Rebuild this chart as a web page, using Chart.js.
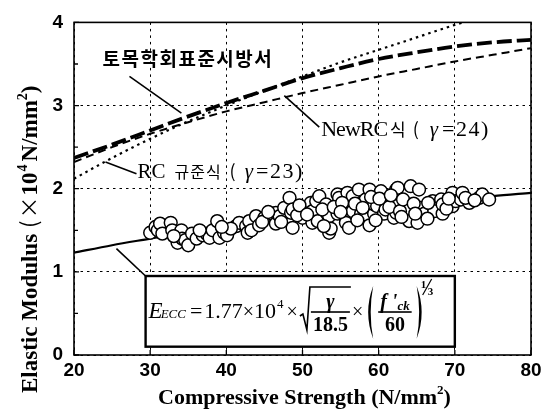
<!DOCTYPE html>
<html>
<head>
<meta charset="utf-8">
<script src="https://cdn.jsdelivr.net/npm/chart.js@4/dist/chart.umd.min.js"></script>
<style>
  html, body { margin: 0; padding: 0; background: #ffffff; }
  #wrap { width: 553px; height: 410px; }
</style>
</head>
<body>
<div id="wrap"><canvas id="chart" width="553" height="410"></canvas></div>
<script>
// Compressive strength (N/mm2) at which the design curves are tabulated
const curveStrength = [20, 25, 30, 35, 40, 45, 50, 55, 60, 65, 70, 75, 80];
// Elastic modulus (x10^4 N/mm2) of each design curve
const jsceModulus   = [2.37, 2.53, 2.70, 2.87, 3.03, 3.18, 3.33, 3.45, 3.56, 3.64, 3.71, 3.76, 3.79];
const newRcModulus  = [2.32, 2.50, 2.66, 2.80, 2.93, 3.04, 3.15, 3.25, 3.35, 3.44, 3.53, 3.61, 3.69];
const eccModulus    = [1.23, 1.32, 1.40, 1.48, 1.55, 1.61, 1.67, 1.72, 1.77, 1.82, 1.86, 1.91, 1.95];
// RC code curve leaves the plot at the top, so it has its own strength list
const rcStrength    = [20, 25, 30, 35, 40, 45, 50, 55, 60, 65, 70, 71.1];
const rcModulus     = [2.12, 2.37, 2.60, 2.81, 3.00, 3.18, 3.35, 3.52, 3.67, 3.82, 3.97, 4.00];

// ECC test specimens: compressive strength and measured elastic modulus
const testStrength = [
  30.0, 30.7, 31.0, 31.3, 31.6, 32.7, 32.9, 33.6, 34.1, 34.2, 34.6, 35.0, 35.5, 36.1, 36.9, 37.4,
  37.8, 38.2, 38.8, 39.1, 39.7, 40.1, 41.3, 41.7, 42.6, 42.8, 43.0, 43.3, 43.9, 44.3, 45.0, 46.0,
  46.5, 46.5, 47.0, 47.6, 48.3, 48.5, 48.7, 48.7, 50.0, 50.0, 51.1, 51.3, 51.3, 51.8, 52.0, 52.2,
  53.1, 53.3, 53.5, 53.5, 53.7, 54.6, 54.6, 54.8, 55.7, 55.7, 55.9, 56.1, 56.1, 56.6, 56.6, 57.4,
  57.7, 58.3, 58.3, 58.8, 58.8, 59.4, 59.4, 59.8, 60.3, 60.7, 60.9, 60.9, 62.0, 62.3, 62.3, 62.3,
  62.5, 63.6, 64.0, 64.0, 64.2, 65.3, 65.5, 66.0, 65.1, 67.1, 67.1, 67.3, 68.2, 68.4, 68.4, 69.7,
  69.7, 70.1, 70.8, 71.0, 71.9, 73.2, 73.6, 74.5,
  44.7, 45.5, 47.2, 49.3, 49.6, 50.6, 52.6, 52.8, 54.1, 55.2, 55.0, 56.9, 57.2, 57.9, 59.0, 59.6,
  60.1, 61.4, 61.6, 62.8, 63.2, 63.0, 64.6, 64.8, 66.5, 66.4, 68.9, 69.2, 71.4, 72.6, 36.5, 33.1,
  40.6, 39.4
];
const testModulus = [
  1.47, 1.54, 1.50, 1.58, 1.46, 1.59, 1.50, 1.35, 1.50, 1.40, 1.38, 1.32, 1.46, 1.40, 1.44, 1.46,
  1.41, 1.50, 1.61, 1.41, 1.47, 1.44, 1.55, 1.59, 1.55, 1.47, 1.61, 1.50, 1.67, 1.56, 1.65, 1.70,
  1.58, 1.71, 1.67, 1.77, 1.89, 1.71, 1.75, 1.53, 1.75, 1.65, 1.83, 1.73, 1.59, 1.85, 1.61, 1.91,
  1.81, 1.69, 1.67, 1.47, 1.52, 1.93, 1.70, 1.89, 1.64, 1.59, 1.95, 1.77, 1.53, 1.73, 1.91, 1.99,
  1.70, 1.87, 1.69, 1.99, 1.56, 1.70, 1.81, 1.79, 1.97, 1.70, 1.83, 1.75, 1.65, 1.99, 1.81, 1.71,
  2.01, 1.79, 1.75, 1.61, 2.03, 1.99, 1.77, 1.70, 1.59, 1.85, 1.79, 1.73, 1.87, 1.70, 1.81, 1.95,
  1.79, 1.85, 1.87, 1.95, 1.83, 1.89, 1.93, 1.87,
  1.60, 1.72, 1.60, 1.68, 1.80, 1.69, 1.75, 1.55, 1.78, 1.83, 1.72, 1.82, 1.62, 1.77, 1.90, 1.62,
  1.88, 1.78, 1.92, 1.73, 1.87, 1.66, 1.82, 1.70, 1.83, 1.64, 1.76, 1.88, 1.89, 1.86, 1.50, 1.43,
  1.52, 1.54
];

// Axis range and tick steps
const xTicks = { min: 20, max: 80, step: 10 };
const yTicks = { min: 0, max: 4, step: 1 };

const SERIF = "'Liberation Serif', 'Times New Roman', serif";
const SANS = "'Liberation Sans', Arial, sans-serif";
const KR = "'Noto Sans CJK KR', 'Noto Sans', sans-serif";

const pairs = (xs, ys) => xs.map((x, i) => ({ x: x, y: ys[i] }));

// Text runs: each run keeps its own font, offset and spacing
function drawRuns(ctx, x, y, runs) {
  for (const r of runs) {
    ctx.font = r.font;
    ctx.letterSpacing = r.ls || '0px';
    ctx.fillText(r.text, x, y + (r.dy || 0));
    x += ctx.measureText(r.text).width + (r.gap || 0);
  }
  ctx.letterSpacing = '0px';
  return x;
}
function runsWidth(ctx, runs) {
  let w = 0;
  for (const r of runs) {
    ctx.font = r.font;
    ctx.letterSpacing = r.ls || '0px';
    w += ctx.measureText(r.text).width + (r.gap || 0);
  }
  ctx.letterSpacing = '0px';
  return w;
}
function put(ctx, text, font, x, y) {
  ctx.font = font;
  ctx.fillText(text, x, y);
  return x + ctx.measureText(text).width;
}
function paren(ctx, x, y0, y1, open) {
  const mid = (y0 + y1) / 2;
  const s = open ? 1 : -1;
  ctx.beginPath();
  ctx.moveTo(x, y0);
  ctx.quadraticCurveTo(x - s * 10, mid, x, y1);
  ctx.quadraticCurveTo(x - s * 5, mid, x, y0);
  ctx.fill();
}

// Curve names with their leader lines, in data units
const curveNotes = [
  { at: [23.74, 3.47], from: [27.28, 3.35], to: [34.10, 2.91],
    runs: [{ text: '토목학회표준시방서', font: `bold 19px ${KR}`, ls: '1.5px' }] },
  { at: [28.33, 2.13], from: [28.20, 2.18], to: [24.13, 2.32],
    runs: [
      { text: 'RC', font: `21px ${SERIF}`, gap: 9 },
      { text: '규준식', font: `16px ${KR}`, ls: '1px', gap: 8 },
      { text: '(', font: `18px ${KR}`, gap: 9 },
      { text: 'γ', font: `italic 21px ${SERIF}`, gap: 3 },
      { text: '=23)', font: `22px ${SERIF}`, ls: '1.5px' }
    ] },
  { at: [52.46, 2.63], from: [52.20, 2.74], to: [47.61, 3.12],
    runs: [
      { text: 'NewRC', font: `22px ${SERIF}`, ls: '-1px', gap: 3 },
      { text: '식', font: `17px ${KR}`, gap: 7 },
      { text: '(', font: `18px ${KR}`, gap: 11 },
      { text: 'γ', font: `italic 21px ${SERIF}`, gap: 4 },
      { text: '=24)', font: `22px ${SERIF}`, ls: '1.5px' }
    ] }
];
const formulaBox = { x0: 29.4, x1: 70.0, y0: 0.1, y1: 0.95, leaderFrom: [25.57, 1.28] };

function drawFormula(ctx, L, T, R, B) {
  ctx.save();
  ctx.fillStyle = '#ffffff';
  ctx.fillRect(L, T, R - L, B - T);
  ctx.strokeStyle = '#000';
  ctx.lineWidth = 2.4;
  ctx.strokeRect(L, T, R - L, B - T);
  ctx.fillStyle = '#000';
  ctx.textBaseline = 'alphabetic';
  ctx.textAlign = 'left';

  const base = T + 42;     // main line baseline
  const bar = base - 6;    // fraction bar height
  let x = L + 3;
  x = put(ctx, 'E', `italic 23px ${SERIF}`, x, base);
  x = put(ctx, 'ECC', `italic 13px ${SERIF}`, x - 2, base);
  x += 4;
  x = put(ctx, '=', `22px ${SERIF}`, x, base) + 2;
  x = put(ctx, '1.77', `22px ${SERIF}`, x, base);
  x = put(ctx, '×', `20px ${SERIF}`, x, base);
  x = put(ctx, '10', `22px ${SERIF}`, x, base);
  x = put(ctx, '4', `13px ${SERIF}`, x + 1, base - 10) + 3;
  x = put(ctx, '×', `20px ${SERIF}`, x, base) + 2;

  // square root of gamma / 18.5
  ctx.font = `bold 20px ${SERIF}`;
  const wDen1 = ctx.measureText('18.5').width;
  ctx.font = `italic bold 20px ${SERIF}`;
  const wNum1 = ctx.measureText('γ').width;
  const f1w = Math.max(wDen1, wNum1) + 6;
  ctx.lineWidth = 1.6;
  ctx.beginPath();
  ctx.moveTo(x, bar + 4);
  ctx.lineTo(x + 3, bar + 2);
  ctx.lineTo(x + 7, base + 12);
  ctx.lineTo(x + 10, T + 11);
  ctx.lineTo(x + 10 + f1w, T + 11);
  ctx.stroke();
  const f1x = x + 10;
  ctx.fillRect(f1x + 1, bar - 0.8, f1w - 2, 1.6);
  put(ctx, 'γ', `italic bold 20px ${SERIF}`, f1x + (f1w - wNum1) / 2, bar - 4);
  put(ctx, '18.5', `bold 20px ${SERIF}`, f1x + (f1w - wDen1) / 2, bar + 19);
  x = f1x + f1w + 1;
  x = put(ctx, '×', `20px ${SERIF}`, x, base) + 2;

  // (f'ck / 60) to the power one third
  paren(ctx, x + 8, T + 10, B - 8, true);
  x += 12;
  ctx.font = `italic bold 20px ${SERIF}`;
  const wf = ctx.measureText("f '").width;
  ctx.font = `italic bold 13px ${SERIF}`;
  const wck = ctx.measureText('ck').width;
  ctx.font = `bold 20px ${SERIF}`;
  const w60 = ctx.measureText('60').width;
  const f2w = Math.max(wf + wck, w60) + 6;
  ctx.fillRect(x + 1, bar - 0.8, f2w - 2, 1.6);
  let nx = x + (f2w - wf - wck) / 2;
  nx = put(ctx, "f '", `italic bold 20px ${SERIF}`, nx, bar - 4);
  put(ctx, 'ck', `italic bold 13px ${SERIF}`, nx, bar - 2);
  put(ctx, '60', `bold 20px ${SERIF}`, x + (f2w - w60) / 2, bar + 19);
  x += f2w + 2;
  paren(ctx, x + 2, T + 10, B - 8, false);
  x += 6;
  put(ctx, '1', `bold 11px ${SERIF}`, x, T + 12);
  ctx.lineWidth = 1.2;
  ctx.beginPath();
  ctx.moveTo(x + 2, T + 19);
  ctx.lineTo(x + 11, T + 3);
  ctx.stroke();
  put(ctx, '3', `bold 11px ${SERIF}`, x + 7, T + 19);
  ctx.restore();
}

const decorations = {
  id: 'decorations',
  afterDatasetsDraw(chart) {
    const { ctx, chartArea: a, scales: { x: sx, y: sy } } = chart;
    const px = v => sx.getPixelForValue(v);
    const py = v => sy.getPixelForValue(v);
    ctx.save();
    ctx.fillStyle = '#000';
    ctx.strokeStyle = '#000';

    // inner tick marks
    ctx.lineWidth = 1.3;
    ctx.beginPath();
    for (let v = xTicks.min; v <= xTicks.max; v += xTicks.step) {
      ctx.moveTo(px(v), a.bottom); ctx.lineTo(px(v), a.bottom - 5);
    }
    for (let v = yTicks.min; v <= yTicks.max; v += yTicks.step / 2) {
      const len = (v % 1 === 0) ? 5 : 4;
      ctx.moveTo(a.left, py(v)); ctx.lineTo(a.left + len, py(v));
    }
    ctx.stroke();

    // formula box with its leader
    const L = px(formulaBox.x0), R = px(formulaBox.x1);
    const T = py(formulaBox.y1), B = py(formulaBox.y0);
    drawFormula(ctx, L, T, R, B);
    ctx.lineWidth = 1.6;
    ctx.beginPath();
    ctx.moveTo(px(formulaBox.leaderFrom[0]), py(formulaBox.leaderFrom[1]));
    ctx.lineTo(L + 1, T + 1);
    ctx.stroke();

    // curve names
    ctx.textBaseline = 'alphabetic';
    ctx.textAlign = 'left';
    for (const n of curveNotes) {
      ctx.lineWidth = 1.6;
      ctx.beginPath();
      ctx.moveTo(px(n.from[0]), py(n.from[1]));
      ctx.lineTo(px(n.to[0]), py(n.to[1]));
      ctx.stroke();
      drawRuns(ctx, px(n.at[0]), py(n.at[1]), n.runs);
    }

    // plot frame
    ctx.lineWidth = 1.6;
    ctx.strokeRect(a.left, a.top, a.right - a.left, a.bottom - a.top);

    // axis titles
    const xTitle = [
      { text: 'Compressive Strength (N/mm', font: `bold 22px ${SERIF}` },
      { text: '2', font: `bold 13px ${SERIF}`, dy: -10 },
      { text: ')', font: `bold 22px ${SERIF}` }
    ];
    const wx = runsWidth(ctx, xTitle);
    drawRuns(ctx, (a.left + a.right) / 2 + 2 - wx / 2, 404, xTitle);

    ctx.save();
    ctx.translate(37, 393);
    ctx.rotate(-Math.PI / 2);
    drawRuns(ctx, 0, 0, [
      { text: 'Elastic Modulus', font: `bold 23px ${SERIF}`, gap: 6 },
      { text: '(', font: `22px ${KR}`, gap: 2 },
      { text: '×', font: `22px ${KR}`, gap: 1 },
      { text: '10', font: `bold 23px ${SERIF}`, gap: 1 },
      { text: '4', font: `bold 14px ${SERIF}`, dy: -10, gap: 3 },
      { text: 'N/mm', font: `bold 23px ${SERIF}` },
      { text: '2', font: `bold 14px ${SERIF}`, dy: -10 },
      { text: ')', font: `bold 23px ${SERIF}` }
    ]);
    ctx.restore();
    ctx.restore();
  }
};

new Chart(document.getElementById('chart').getContext('2d'), {
  type: 'scatter',
  data: {
    datasets: [
      {
        label: 'ECC 시험값',
        data: pairs(testStrength, testModulus),
        showLine: false,
        pointRadius: 6.4,
        pointBackgroundColor: '#ffffff',
        pointBorderColor: '#000000',
        pointBorderWidth: 1.5,
        order: 0
      },
      {
        label: 'ECC 제안식',
        data: pairs(curveStrength, eccModulus),
        showLine: true,
        borderColor: '#000000',
        borderWidth: 2.2,
        pointRadius: 0,
        cubicInterpolationMode: 'monotone',
        order: 5
      },
      {
        label: '토목학회표준시방서',
        data: pairs(curveStrength, jsceModulus),
        showLine: true,
        borderColor: '#000000',
        borderWidth: 3.8,
        borderDash: [15, 5],
        pointRadius: 0,
        cubicInterpolationMode: 'monotone',
        order: 2
      },
      {
        label: 'NewRC식',
        data: pairs(curveStrength, newRcModulus),
        showLine: true,
        borderColor: '#000000',
        borderWidth: 2,
        borderDash: [8, 5],
        pointRadius: 0,
        cubicInterpolationMode: 'monotone',
        order: 3
      },
      {
        label: 'RC 규준식',
        data: pairs(rcStrength, rcModulus),
        showLine: true,
        borderColor: '#000000',
        borderWidth: 2.2,
        borderDash: [2.5, 4],
        pointRadius: 0,
        cubicInterpolationMode: 'monotone',
        order: 4
      }
    ]
  },
  options: {
    responsive: false,
    animation: false,
    devicePixelRatio: 1,
    layout: { padding: { top: 20, right: 22, left: 0, bottom: 0 } },
    plugins: { legend: { display: false }, tooltip: { enabled: false } },
    scales: {
      x: {
        type: 'linear',
        min: xTicks.min, max: xTicks.max,
        ticks: { stepSize: xTicks.step, color: '#000', padding: 4,
                 font: { family: SANS, size: 19, weight: 'bold' } },
        grid: { color: '#000', lineWidth: 1, drawTicks: false },
        border: { display: false, dash: [2.5, 4] },
        afterFit(s) { s.height = 55; }
      },
      y: {
        type: 'linear',
        min: yTicks.min, max: yTicks.max,
        ticks: { stepSize: yTicks.step, color: '#000', padding: 11,
                 font: { family: SANS, size: 19, weight: 'bold' } },
        grid: { color: '#000', lineWidth: 1, drawTicks: false },
        border: { display: false, dash: [2.5, 4] },
        afterFit(s) { s.width = 74; }
      }
    }
  },
  plugins: [decorations]
});
</script>
</body>
</html>
